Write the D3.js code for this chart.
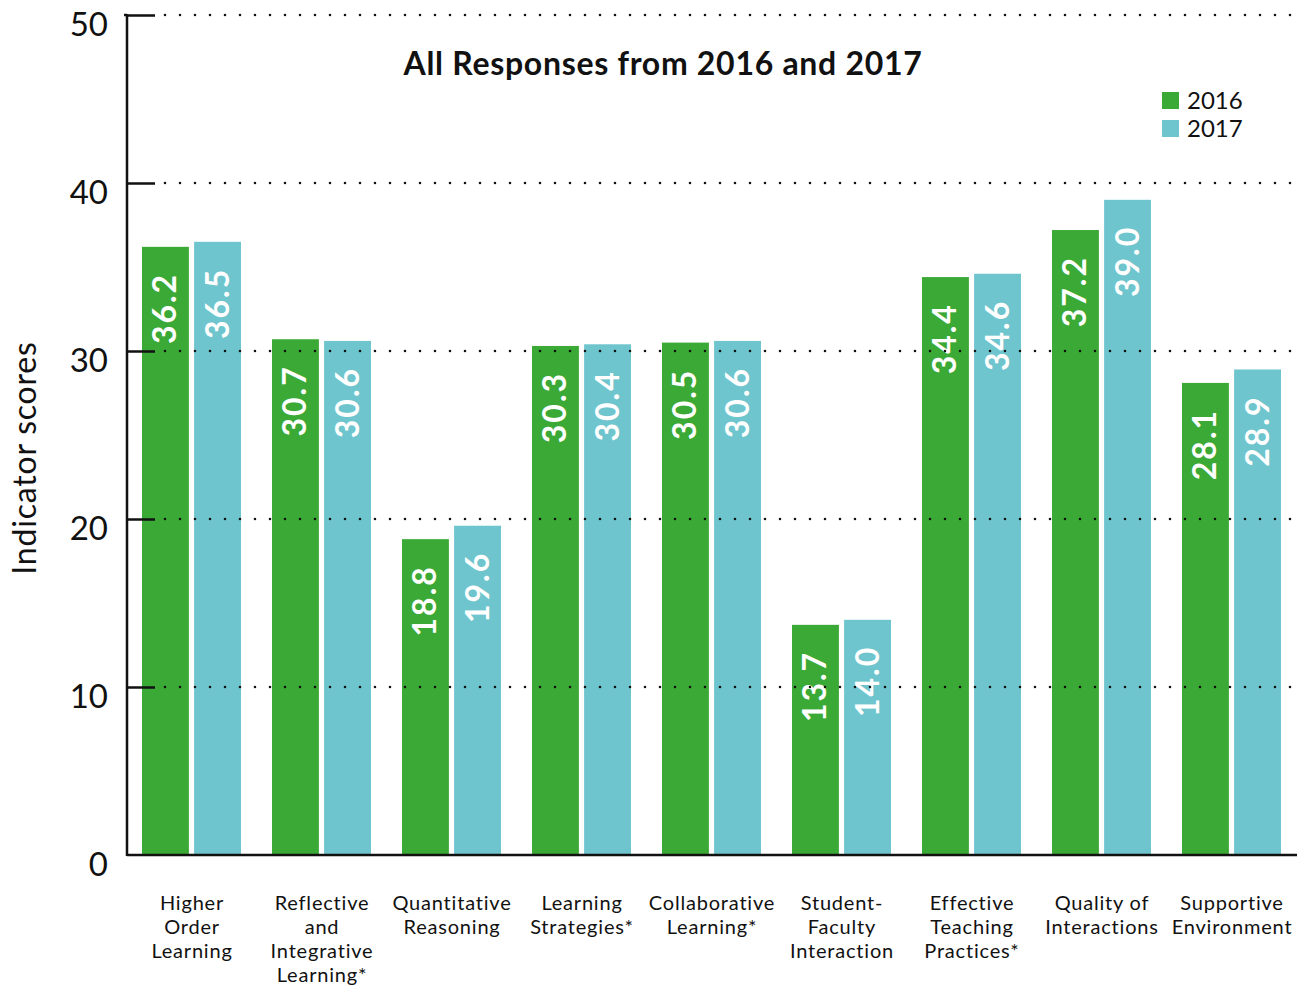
<!DOCTYPE html>
<html>
<head>
<meta charset="utf-8">
<script src="https://cdn.jsdelivr.net/npm/d3@7"></script>
<style>
  html, body { margin: 0; padding: 0; background: #fff; }
  svg { display: block; font-family: Lato, "Open Sans", sans-serif; }
</style>
</head>
<body>
<svg id="chart" width="1303" height="988"></svg>
<script>
// Indicator categories (multi-line labels)
const categories = [
  ["Higher", "Order", "Learning"],
  ["Reflective", "and", "Integrative", "Learning*"],
  ["Quantitative", "Reasoning"],
  ["Learning", "Strategies*"],
  ["Collaborative", "Learning*"],
  ["Student-", "Faculty", "Interaction"],
  ["Effective", "Teaching", "Practices*"],
  ["Quality of", "Interactions"],
  ["Supportive", "Environment"]
];
const years = ["2016", "2017"];
const values2016 = [36.2, 30.7, 18.8, 30.3, 30.5, 13.7, 34.4, 37.2, 28.1];
const values2017 = [36.5, 30.6, 19.6, 30.4, 30.6, 14.0, 34.6, 39.0, 28.9];
const yTicks = [0, 10, 20, 30, 40, 50];
const colors = { "2016": "#3ba935", "2017": "#6fc5cd" };
const title = "All Responses from 2016 and 2017";
const yTitle = "Indicator scores";

const svg = d3.select("#chart");
const plotLeft = 127, plotRight = 1297, plotTop = 15, plotBottom = 855;

const x0 = d3.scaleBand().domain(d3.range(categories.length)).range([plotLeft, plotRight]);
const x1 = d3.scaleBand().domain(years).range([15, 114]).paddingInner(0.1);
const y = d3.scaleLinear().domain([0, 50]).range([plotBottom, plotTop]);

const series = { "2016": values2016, "2017": values2017 };

// Bars
const groups = svg.append("g").selectAll("g")
  .data(categories.map((c, i) => i))
  .join("g")
  .attr("transform", i => `translate(${x0(i)},0)`);

groups.selectAll("rect")
  .data(i => years.map(yr => ({ yr, v: series[yr][i] })))
  .join("rect")
  .attr("x", d => x1(d.yr))
  .attr("width", x1.bandwidth())
  .attr("y", d => y(d.v))
  .attr("height", d => y(0) - y(d.v))
  .attr("fill", d => colors[d.yr]);

// Value labels inside bars, rotated
groups.selectAll("text.val")
  .data(i => years.map(yr => ({ yr, v: series[yr][i] })))
  .join("text")
  .attr("class", "val")
  .attr("transform", d => `translate(${x1(d.yr) + x1.bandwidth() / 2 + 11},${y(d.v) + 26}) rotate(-90)`)
  .attr("text-anchor", "end")
  .attr("fill", "#fff")
  .attr("font-weight", "bold")
  .attr("font-size", 32)
  .attr("letter-spacing", 2)
  .text(d => d.v.toFixed(1));

// Dotted gridlines
svg.append("g").selectAll("line")
  .data(yTicks.filter(t => t > 0))
  .join("line")
  .attr("x1", plotLeft + 38).attr("x2", plotRight)
  .attr("y1", d => y(d)).attr("y2", d => y(d))
  .attr("stroke", "#111")
  .attr("stroke-width", 2.6)
  .attr("stroke-linecap", "round")
  .attr("stroke-dasharray", "0,15");

// Y axis
const yAxis = d3.axisRight(y).tickValues(yTicks).tickSize(28).tickFormat("");
const ya = svg.append("g").attr("transform", `translate(${plotLeft},0)`).call(yAxis);
ya.select(".domain").remove();
ya.selectAll(".tick line").attr("stroke", "#111").attr("stroke-width", 2.5);
ya.selectAll(".tick").filter(d => d === 0).remove();
svg.append("line")
  .attr("x1", plotLeft).attr("x2", plotLeft)
  .attr("y1", plotTop - 1).attr("y2", plotBottom + 1)
  .attr("stroke", "#111").attr("stroke-width", 2.5);
svg.append("line")
  .attr("x1", plotLeft - 3).attr("x2", plotLeft)
  .attr("y1", plotTop).attr("y2", plotTop)
  .attr("stroke", "#111").attr("stroke-width", 2.5);

svg.append("g").selectAll("text")
  .data(yTicks)
  .join("text")
  .attr("x", 108)
  .attr("y", d => y(d) + 9)
  .attr("dy", "0.35em")
  .attr("text-anchor", "end")
  .attr("font-size", 33)
  .attr("fill", "#111")
  .text(d => d);

// Baseline
svg.append("line")
  .attr("x1", plotLeft).attr("x2", plotRight)
  .attr("y1", y(0)).attr("y2", y(0))
  .attr("stroke", "#111").attr("stroke-width", 2.5);

// Category labels
const catText = svg.append("g").selectAll("text")
  .data(categories)
  .join("text")
  .attr("text-anchor", "middle")
  .attr("font-size", 20)
  .attr("letter-spacing", 0.8)
  .attr("fill", "#111")
  .attr("transform", (d, i) => `translate(${x0(i) + x0.bandwidth() / 2},910)`);
catText.selectAll("tspan")
  .data(d => d)
  .join("tspan")
  .attr("x", 0)
  .attr("y", (d, j) => j * 24)
  .text(d => d);

// Title
svg.append("text")
  .attr("x", 663).attr("y", 75)
  .attr("text-anchor", "middle")
  .attr("font-size", 32)
  .attr("font-weight", "bold")
  .attr("letter-spacing", 0.7)
  .attr("fill", "#111")
  .text(title);

// Y-axis title
svg.append("text")
  .attr("transform", "translate(36,458) rotate(-90)")
  .attr("text-anchor", "middle")
  .attr("font-size", 32)
  .attr("letter-spacing", 0.8)
  .attr("fill", "#111")
  .text(yTitle);

// Legend
const legend = svg.append("g").selectAll("g")
  .data(years)
  .join("g")
  .attr("transform", (d, i) => `translate(1162,${92 + i * 28})`);
legend.append("rect")
  .attr("width", 17).attr("height", 17)
  .attr("fill", d => colors[d]);
legend.append("text")
  .attr("x", 25).attr("y", 17)
  .attr("font-size", 24)
  .attr("fill", "#111")
  .text(d => d);
</script>
</body>
</html>
